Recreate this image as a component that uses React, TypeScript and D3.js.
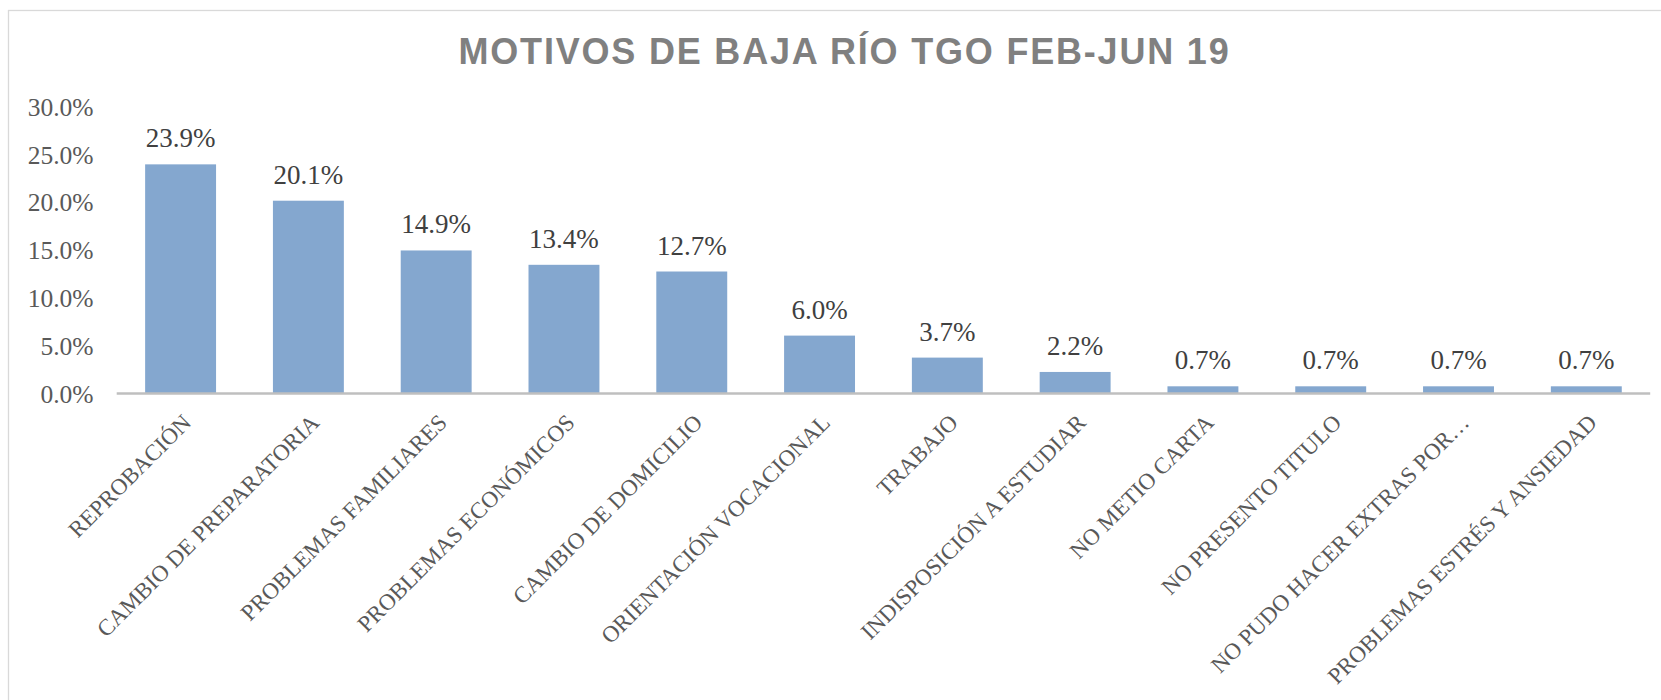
import React from "react";
import * as d3 from "d3";

const title = "MOTIVOS DE BAJA RÍO TGO FEB-JUN 19";
const categories = [
  "REPROBACIÓN",
  "CAMBIO DE PREPARATORIA",
  "PROBLEMAS FAMILIARES",
  "PROBLEMAS ECONÓMICOS",
  "CAMBIO DE DOMICILIO",
  "ORIENTACIÓN VOCACIONAL",
  "TRABAJO",
  "INDISPOSICIÓN A ESTUDIAR",
  "NO METIO CARTA",
  "NO PRESENTO TITULO",
  "NO PUDO HACER EXTRAS POR…",
  "PROBLEMAS ESTRÉS Y ANSIEDAD",
];
const values = [0.239, 0.201, 0.149, 0.134, 0.127, 0.06, 0.037, 0.022, 0.007, 0.007, 0.007, 0.007];
const yTicks = [0, 0.05, 0.1, 0.15, 0.2, 0.25, 0.3];

const W = 1661;
const H = 700;
const X0 = 116.7;
const X1 = 1650.2;
const Y0 = 393;
const Y1 = 106;

export default function App() {
  const x = d3
    .scaleBand<string>()
    .domain(categories)
    .range([X0, X1])
    .paddingInner(0.445)
    .paddingOuter(0.2225);
  const y = d3.scaleLinear().domain([0, 0.3]).range([Y0, Y1]);
  const fmt = d3.format(".1%");
  const serif = "'Liberation Serif', 'Times New Roman', serif";

  return (
    <svg
      width={W}
      height={H}
      style={{ position: "absolute", left: 0, top: 0, background: "#fff" }}
    >
      <rect x={8.5} y={10.5} width={1800} height={900} fill="#fff" stroke="#D9D9D9" strokeWidth={1.3} />
      <text
        x={844.5}
        y={64}
        textAnchor="middle"
        fontFamily="'Liberation Sans', Arial, sans-serif"
        fontWeight="bold"
        fontSize={36}
        letterSpacing={1.8}
        fill="#808080"
      >
        {title}
      </text>
      {yTicks.map((t) => (
        <text
          key={t}
          x={93.5}
          y={y(t) + 9.7}
          textAnchor="end"
          fontFamily={serif}
          fontSize={25.5}
          fill="#595959"
        >
          {fmt(t)}
        </text>
      ))}
      {categories.map((c, i) => (
        <rect
          key={c}
          x={x(c)!}
          y={y(values[i])}
          width={x.bandwidth()}
          height={y(0) - y(values[i])}
          fill="#84A7CF"
        />
      ))}
      <line x1={X0} x2={X1} y1={Y0 + 0.5} y2={Y0 + 0.5} stroke="#BFBFBF" strokeWidth={2.5} />
      {categories.map((c, i) => (
        <text
          key={"v" + c}
          x={x(c)! + x.bandwidth() / 2}
          y={y(values[i]) - 17}
          textAnchor="middle"
          fontFamily={serif}
          fontSize={27}
          fill="#404040"
        >
          {fmt(values[i])}
        </text>
      ))}
      {categories.map((c) => {
        const cx = x(c)! + x.bandwidth() / 2 + 12;
        const cy = 424;
        return (
          <text
            key={"c" + c}
            transform={`translate(${cx},${cy}) rotate(-45)`}
            textAnchor="end"
            fontFamily={serif}
            fontSize={23}
            fill="#595959"
          >
            {c}
          </text>
        );
      })}
    </svg>
  );
}
